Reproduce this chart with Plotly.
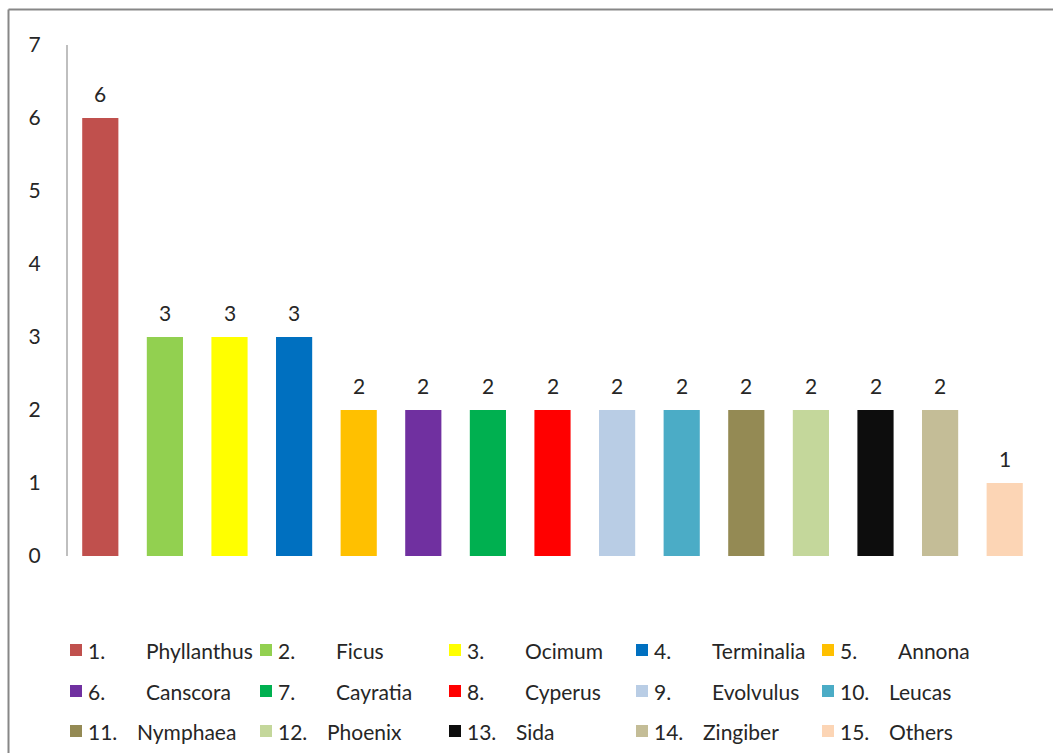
import plotly.graph_objects as go

numbers = ["1.", "2.", "3.", "4.", "5.", "6.", "7.", "8.", "9.", "10.",
           "11.", "12.", "13.", "14.", "15."]
genera = ["Phyllanthus", "Ficus", "Ocimum", "Terminalia", "Annona",
          "Canscora", "Cayratia", "Cyperus", "Evolvulus", "Leucas",
          "Nymphaea", "Phoenix", "Sida", "Zingiber", "Others"]
counts = [6, 3, 3, 3, 2, 2, 2, 2, 2, 2, 2, 2, 2, 2, 1]
colors = ["#C0504D", "#92D050", "#FFFF00", "#0070C0", "#FFC000",
          "#7030A0", "#00B050", "#FF0000", "#B9CDE5", "#4BACC6",
          "#948A54", "#C4D79B", "#0D0D0D", "#C4BD97", "#FCD5B5"]
y_ticks = [0, 1, 2, 3, 4, 5, 6, 7]

W, H = 1053, 753
L, R, T, B = 68, 16, 45, 197
PW, PH = W - L - R, H - T - B

def px_x(p):
    return (p - L) / PW

def px_y(p):
    return (H - B - p) / PH

FONT = "Lato, 'Open Sans', Arial, sans-serif"
TXT = "#262626"
FS = 21

cats = [f"{n} {g}" for n, g in zip(numbers, genera)]

fig = go.Figure()
fig.add_trace(go.Bar(
    x=cats, y=counts, marker=dict(color=colors, line=dict(width=0)),
    width=0.56, showlegend=False, hoverinfo="x+y",
))

annotations = []
for c, v in zip(cats, counts):
    annotations.append(dict(x=c, y=v, xref="x", yref="y", text=str(v),
                            showarrow=False, yanchor="bottom", yshift=10,
                            font=dict(size=FS, color=TXT, family=FONT)))

shapes = []
col_px = [70, 260, 449, 636, 822]
row_px = [650, 691, 731]
for i, (n, g, col) in enumerate(zip(numbers, genera, colors)):
    r, c = divmod(i, 5)
    x0 = col_px[c]
    yc = row_px[r]
    shapes.append(dict(type="rect", xref="paper", yref="paper",
                       x0=px_x(x0), x1=px_x(x0 + 12),
                       y0=px_y(yc + 6), y1=px_y(yc - 6),
                       fillcolor=col, line=dict(width=0)))
    annotations.append(dict(x=px_x(x0 + 16), y=px_y(yc), xref="paper", yref="paper",
                            text=n, showarrow=False, xanchor="left", yanchor="middle",
                            font=dict(size=FS, color=TXT, family=FONT)))
    gap = 58 if len(n) == 2 else 49
    annotations.append(dict(x=px_x(x0 + 16 + gap), y=px_y(yc), xref="paper", yref="paper",
                            text=g, showarrow=False, xanchor="left", yanchor="middle",
                            font=dict(size=FS, color=TXT, family=FONT)))

# outer chart frame (top and left edges visible)
shapes.append(dict(type="line", xref="paper", yref="paper",
                   x0=px_x(8.5), x1=px_x(1060), y0=px_y(9.5), y1=px_y(9.5),
                   line=dict(color="#878787", width=2)))
shapes.append(dict(type="line", xref="paper", yref="paper",
                   x0=px_x(8.5), x1=px_x(8.5), y0=px_y(9.5), y1=px_y(760),
                   line=dict(color="#878787", width=2)))

fig.update_layout(
    width=W, height=H,
    margin=dict(l=L, r=R, t=T, b=B),
    paper_bgcolor="white", plot_bgcolor="white",
    barmode="overlay",
    showlegend=False,
    font=dict(family=FONT, size=FS, color=TXT),
    xaxis=dict(showticklabels=False, showline=False, showgrid=False,
               zeroline=False, ticks="", range=[-0.5, 14.5]),
    yaxis=dict(range=[0, 7], tickvals=y_ticks, showgrid=False, zeroline=False,
               showline=True, linecolor="#BFBFBF", linewidth=2,
               ticks="", ticklabelstandoff=21,
               tickfont=dict(size=FS, color=TXT, family=FONT)),
    annotations=annotations,
    shapes=shapes,
)

fig.write_html("out.html")
